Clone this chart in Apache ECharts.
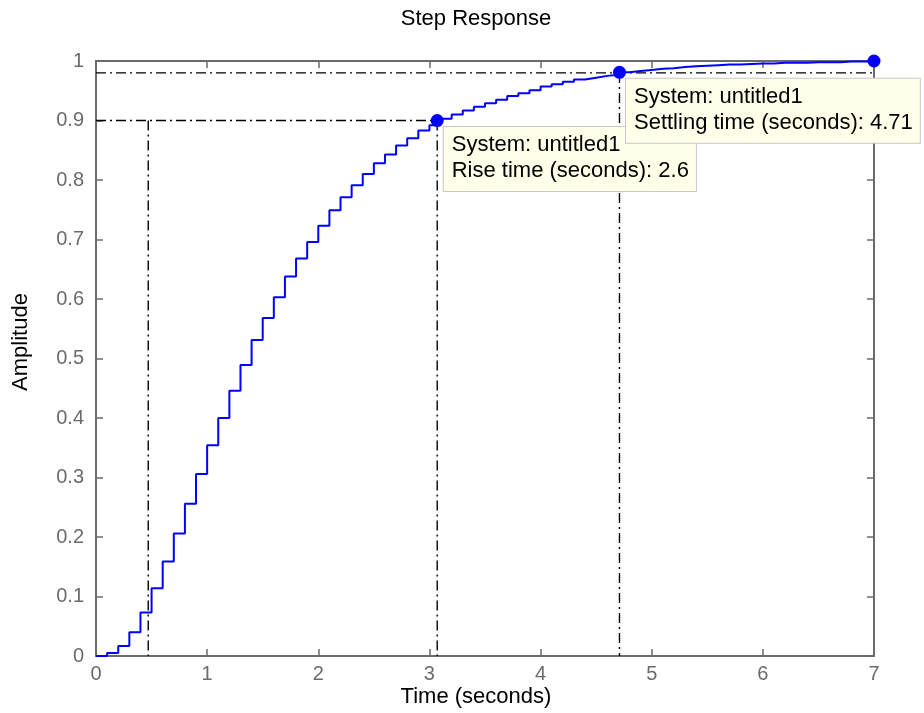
<!DOCTYPE html>
<html><head><meta charset="utf-8">
<script src="https://cdn.jsdelivr.net/npm/echarts@6/dist/echarts.min.js"></script>
<style>html,body{margin:0;padding:0;background:#fff}#c{width:924px;height:713px}</style>
</head><body><div id="c"></div>
<script>
// ---- data ----
const chartTitle = 'Step Response';
const xName = 'Time (seconds)';
const yName = 'Amplitude';
const xTicks = [0, 1, 2, 3, 4, 5, 6, 7];
const yTicks = [0, 0.1, 0.2, 0.3, 0.4, 0.5, 0.6, 0.7, 0.8, 0.9, 1];
const sampleTime = 0.1;
const amplitude = [
  0, 0.005, 0.017, 0.040, 0.073, 0.114, 0.159, 0.206, 0.256, 0.306,
  0.354, 0.400, 0.446, 0.489, 0.531, 0.568, 0.603, 0.638, 0.668, 0.696,
  0.723, 0.749, 0.771, 0.791, 0.810, 0.828, 0.843, 0.858, 0.870, 0.883,
  0.892, 0.903, 0.910, 0.917, 0.923, 0.929, 0.935, 0.941, 0.946, 0.951,
  0.957, 0.961, 0.965, 0.969, 0.972, 0.975, 0.977, 0.981, 0.983, 0.985,
  0.987, 0.988, 0.990, 0.991, 0.992, 0.993, 0.994, 0.994, 0.995, 0.996,
  0.996, 0.997, 0.997, 0.997, 0.998, 0.998, 0.998, 0.999, 0.999, 0.999,
  1.000
];
const riseStart = 0.47, riseEnd = 3.07, riseLevel = 0.9;
const settleTime = 4.71, settleLevel = 0.98;
const finalTime = 7;
const markerTimes = [3.07, 4.71, 7];
const markerValues = [0.9, 0.981, 1.0];
const tipTexts = [
  'System: untitled1\nRise time (seconds): 2.6',
  'System: untitled1\nSettling time (seconds): 4.71',
  ''
];

// ---- chart ----
const FONT = 'Liberation Sans, Arial, Helvetica, sans-serif';
const AX = '#6b6b6b';
const times = amplitude.map((_, k) => +(k * sampleTime).toFixed(2));
const stepData = times.map((t, k) => [t, amplitude[k]]);
const dashStyle = { color: '#000', width: 1.4, type: [10, 4, 2, 4] };
function dashSeries(pts) {
  return { type: 'line', data: pts, symbol: 'none', silent: true, z: 2,
           lineStyle: dashStyle, animation: false };
}
const tipLabel = {
  show: true, position: [13, 13], align: 'left', verticalAlign: 'top',
  backgroundColor: '#ffffea', borderColor: '#c8c8c8', borderWidth: 1,
  padding: [5, 7, 7, 8], fontSize: 22, lineHeight: 26, color: '#000',
  fontFamily: FONT
};
const markerData = markerTimes.map((t, i) => ({
  value: [t, markerValues[i]],
  label: tipTexts[i] ? Object.assign({}, tipLabel, { formatter: tipTexts[i] }) : { show: false }
}));

const axisCommon = {
  type: 'value', splitLine: { show: false },
  axisLine: { show: true, onZero: false, lineStyle: { color: AX, width: 2 } },
  axisTick: { show: true, inside: true, length: 7, lineStyle: { color: AX, width: 1.5 } }
};
const chart = echarts.init(document.getElementById('c'), null, { renderer: 'canvas' });
chart.setOption({
  animation: false,
  backgroundColor: '#fff',
  grid: { left: 96, right: 50, top: 61, bottom: 57, containLabel: false },
  xAxis: [
    Object.assign({}, axisCommon, { position: 'bottom', min: xTicks[0], max: xTicks[xTicks.length - 1], interval: 1,
      axisLabel: { color: AX, fontSize: 20, margin: 8, fontFamily: FONT } }),
    Object.assign({}, axisCommon, { position: 'top', min: xTicks[0], max: xTicks[xTicks.length - 1], interval: 1,
      axisLabel: { show: false } })
  ],
  yAxis: [
    Object.assign({}, axisCommon, { position: 'left', min: yTicks[0], max: yTicks[yTicks.length - 1], interval: 0.1,
      axisLabel: { color: AX, fontSize: 20, margin: 12, fontFamily: FONT,
        formatter: v => (Math.round(v * 10) / 10).toString() } }),
    Object.assign({}, axisCommon, { position: 'right', min: yTicks[0], max: yTicks[yTicks.length - 1], interval: 0.1,
      axisLabel: { show: false } })
  ],
  graphic: [
    { type: 'text', x: 476, y: 19, style: { text: chartTitle, align: 'center', verticalAlign: 'middle',
      font: '22px ' + FONT, fill: '#000' } },
    { type: 'text', x: 476, y: 697, style: { text: xName, align: 'center', verticalAlign: 'middle',
      font: '22px ' + FONT, fill: '#000' } },
    { type: 'text', x: 21, y: 342, rotation: Math.PI / 2, style: { text: yName, align: 'center', verticalAlign: 'middle',
      font: '22px ' + FONT, fill: '#000' } }
  ],
  series: [
    dashSeries([[0, riseLevel], [riseEnd, riseLevel]]),
    dashSeries([[riseStart, riseLevel], [riseStart, 0]]),
    dashSeries([[riseEnd, riseLevel], [riseEnd, 0]]),
    dashSeries([[0, settleLevel], [finalTime, settleLevel]]),
    dashSeries([[settleTime, settleLevel], [settleTime, 0]]),
    { type: 'line', data: stepData, step: 'end', symbol: 'none', z: 3,
      lineStyle: { color: '#0000ff', width: 2 } },
    { type: 'scatter', data: markerData, symbol: 'circle', symbolSize: 13, z: 5,
      itemStyle: { color: '#0000ff', opacity: 1 } }
  ]
});
</script></body></html>
